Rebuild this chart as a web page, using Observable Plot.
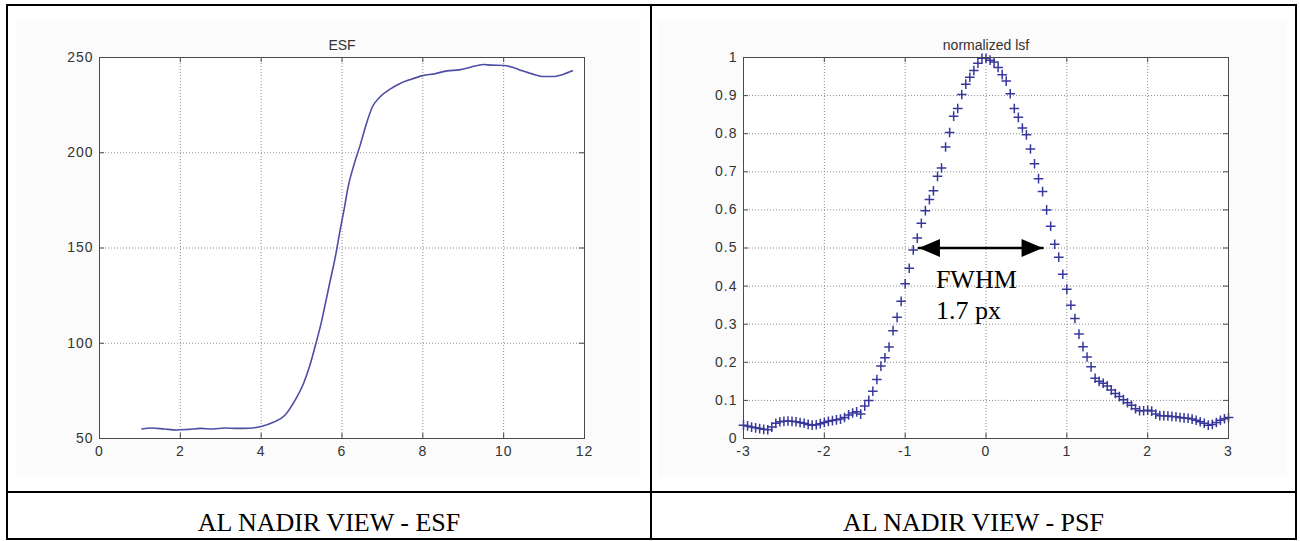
<!DOCTYPE html>
<html>
<head>
<meta charset="utf-8">
<script src="https://cdn.jsdelivr.net/npm/d3@7"></script>
<script src="https://cdn.jsdelivr.net/npm/@observablehq/plot@0.6"></script>
<style>
  html, body { margin: 0; padding: 0; background: #ffffff; }
  #page { position: relative; width: 1300px; height: 541px; overflow: hidden; background: #fff; }
  .bar { position: absolute; background: #000; }
  .cap { position: absolute; font-family: "Liberation Serif", "Times New Roman", serif; font-size: 26px; line-height: 30px; text-align: center; color: #000; white-space: nowrap; }
  .chart { position: absolute; }
  .chart svg { max-width: none !important; }
  g[aria-label$="tick label"] { letter-spacing: 1px; }
</style>
</head>
<body>
<div id="page">
  <div class="chart" id="esf" style="left:16px; top:21px;"></div>
  <div class="chart" id="psf" style="left:658px; top:21px;"></div>
  <div class="bar" style="left:6px; top:4px; width:1291px; height:2px;"></div>
  <div class="bar" style="left:6px; top:538px; width:1291px; height:2px;"></div>
  <div class="bar" style="left:6px; top:4px; width:2px; height:536px;"></div>
  <div class="bar" style="left:1295px; top:4px; width:2px; height:536px;"></div>
  <div class="bar" style="left:650px; top:4px; width:2px; height:536px;"></div>
  <div class="bar" style="left:6px; top:491px; width:1291px; height:2px;"></div>
  <div class="cap" id="capLeft" style="left:8px; top:508px; width:642px;"></div>
  <div class="cap" id="capRight" style="left:652px; top:508px; width:643px;"></div>
</div>
<script>
// ---------- data ----------
const captions = ["AL NADIR VIEW - ESF", "AL NADIR VIEW - PSF"];
const titles = ["ESF", "normalized lsf"];

const esfX = [1.05, 1.3, 1.6, 1.9, 2.2, 2.5, 2.8, 3.1, 3.4, 3.7, 4.0, 4.3, 4.6, 4.85, 5.05, 5.2, 5.35, 5.5, 5.6, 5.7, 5.85, 5.95, 6.05, 6.15, 6.3, 6.45, 6.6, 6.75, 6.95, 7.2, 7.4, 7.7, 8.0, 8.3, 8.6, 8.9, 9.2, 9.5, 9.7, 10.0, 10.2, 10.4, 10.7, 11.0, 11.2, 11.45, 11.7];
const esfY = [55.0, 55.5, 55.0, 54.5, 54.8, 55.3, 55.0, 55.5, 55.3, 55.4, 56.3, 58.5, 62.5, 70.5, 79, 88, 99.5, 112, 122, 132, 147, 159, 170, 182, 194, 204, 215, 224, 229.5, 233.5, 236, 238.5, 240.5, 241.5, 243, 243.5, 245, 246.3, 246, 245.8, 245, 243.5, 241.4, 240, 240, 241, 243];

const psfX = [-3.00, -2.95, -2.90, -2.85, -2.80, -2.75, -2.70, -2.65, -2.60, -2.55,
  -2.50, -2.45, -2.40, -2.35, -2.30, -2.25, -2.20, -2.15, -2.10, -2.05,
  -2.00, -1.95, -1.90, -1.85, -1.80, -1.75, -1.70, -1.65, -1.60, -1.55,
  -1.50, -1.45, -1.40, -1.35, -1.30, -1.25, -1.20, -1.15, -1.10, -1.05,
  -1.00, -0.95, -0.90, -0.85, -0.80, -0.75, -0.70, -0.65, -0.60, -0.55,
  -0.50, -0.45, -0.40, -0.35, -0.30, -0.25, -0.20, -0.15, -0.10, -0.05,
  0.00, 0.05, 0.10, 0.15, 0.20, 0.25, 0.30, 0.35, 0.40, 0.45,
  0.50, 0.55, 0.60, 0.65, 0.70, 0.75, 0.80, 0.85, 0.90, 0.95,
  1.00, 1.05, 1.10, 1.15, 1.20, 1.25, 1.30, 1.35, 1.40, 1.45,
  1.50, 1.55, 1.60, 1.65, 1.70, 1.75, 1.80, 1.85, 1.90, 1.95,
  2.00, 2.05, 2.10, 2.15, 2.20, 2.25, 2.30, 2.35, 2.40, 2.45,
  2.50, 2.55, 2.60, 2.65, 2.70, 2.75, 2.80, 2.85, 2.90, 2.95, 3.00];
const psfY = [0.035, 0.033, 0.030, 0.028, 0.026, 0.024, 0.023, 0.030, 0.040, 0.044,
  0.045, 0.046, 0.045, 0.044, 0.042, 0.040, 0.037, 0.035, 0.036, 0.039,
  0.042, 0.045, 0.047, 0.049, 0.051, 0.055, 0.062, 0.067, 0.070, 0.064,
  0.085, 0.100, 0.124, 0.155, 0.190, 0.212, 0.240, 0.283, 0.318, 0.360,
  0.406, 0.447, 0.495, 0.526, 0.565, 0.598, 0.627, 0.650, 0.688, 0.710,
  0.765, 0.803, 0.846, 0.866, 0.903, 0.930, 0.948, 0.966, 0.985, 0.998,
  0.998, 0.993, 0.988, 0.974, 0.955, 0.938, 0.905, 0.866, 0.843, 0.815,
  0.797, 0.760, 0.721, 0.682, 0.648, 0.600, 0.557, 0.510, 0.476, 0.431,
  0.392, 0.350, 0.315, 0.274, 0.241, 0.214, 0.188, 0.158, 0.150, 0.145,
  0.138, 0.127, 0.118, 0.110, 0.102, 0.094, 0.087, 0.078, 0.073, 0.073,
  0.074, 0.072, 0.064, 0.060, 0.060, 0.059, 0.058, 0.057, 0.055, 0.054,
  0.053, 0.051, 0.048, 0.044, 0.040, 0.035, 0.037, 0.042, 0.048, 0.052, 0.055];

const esfXTicks = [0, 2, 4, 6, 8, 10, 12];
const esfYTicks = [50, 100, 150, 200, 250];
const psfXTicks = [-3, -2, -1, 0, 1, 2, 3];
const psfYTicks = [0, 0.1, 0.2, 0.3, 0.4, 0.5, 0.6, 0.7, 0.8, 0.9, 1];

const fwhmX = [-0.83, 0.70];
const fwhmY = [0.5, 0.5];
const fwhmLabel = ["FWHM\n1.7 px"];

// ---------- helpers ----------
const esfData = esfX.map((x, i) => ({x, y: esfY[i]}));
const psfData = psfX.map((x, i) => ({x, y: psfY[i]}));
const fwhmData = fwhmX.map((x, i) => ({x, y: fwhmY[i]}));

const frameColor = "#4a4a4a";
const gridColor = "#8a8a8a";
const fmt = d => String(d);

const headLeft = {draw(ctx) { ctx.moveTo(0, 0); ctx.lineTo(21, -9); ctx.lineTo(21, 9); ctx.closePath(); }};
const headRight = {draw(ctx) { ctx.moveTo(0, 0); ctx.lineTo(-21, -9); ctx.lineTo(-21, 9); ctx.closePath(); }};

function matlabAxes(xTicks, yTicks, innerW, innerH) {
  return [
    Plot.frame({fill: "white", stroke: "none"}),
    Plot.ruleX(xTicks, {x: d => d, stroke: gridColor, strokeDasharray: "1,2", strokeWidth: 1}),
    Plot.ruleY(yTicks, {y: d => d, stroke: gridColor, strokeDasharray: "1,2", strokeWidth: 1}),
    Plot.ruleX(xTicks, {x: d => d, insetTop: innerH - 5, stroke: frameColor}),
    Plot.ruleX(xTicks, {x: d => d, insetBottom: innerH - 5, stroke: frameColor}),
    Plot.ruleY(yTicks, {y: d => d, insetRight: innerW - 5, stroke: frameColor}),
    Plot.ruleY(yTicks, {y: d => d, insetLeft: innerW - 5, stroke: frameColor})
  ];
}

const svgStyle = {
  background: "#fbfbfb",
  fontSize: "14px",
  fontFamily: "'Liberation Sans', Arial, sans-serif",
  color: "#333",
  overflow: "visible"
};

// ---------- ESF ----------
const esfPlot = Plot.plot({
  width: 624, height: 456,
  marginLeft: 83, marginRight: 56, marginTop: 36, marginBottom: 39,
  style: svgStyle,
  x: {domain: [0, 12], label: null},
  y: {domain: [50, 250], label: null},
  marks: [
    ...matlabAxes(esfXTicks, esfYTicks, 485, 381),
    Plot.line(esfData, {x: "x", y: "y", stroke: "#4d4da6", strokeWidth: 1.6, curve: "monotone-x"}),
    Plot.frame({stroke: frameColor}),
    Plot.axisX(esfXTicks, {tickSize: 0, tickPadding: 8, tickFormat: fmt, label: null}),
    Plot.axisY(esfYTicks, {tickSize: 0, tickPadding: 6, tickFormat: fmt, label: null}),
    Plot.text([titles[0]], {text: d => d, frameAnchor: "top", dy: -17, fontSize: 14, fill: "#333"})
  ]
});
document.getElementById("esf").appendChild(esfPlot);

// ---------- PSF ----------
const psfPlot = Plot.plot({
  width: 629, height: 456,
  marginLeft: 85, marginRight: 59, marginTop: 36, marginBottom: 39,
  style: svgStyle,
  x: {domain: [-3, 3], label: null},
  y: {domain: [0, 1], label: null},
  marks: [
    ...matlabAxes(psfXTicks, psfYTicks, 485, 381),
    Plot.dot(psfData, {x: "x", y: "y", symbol: "plus", r: 3.2, stroke: "#38389c", strokeWidth: 1.5, fill: "none"}),
    Plot.frame({stroke: frameColor}),
    Plot.axisX(psfXTicks, {tickSize: 0, tickPadding: 8, tickFormat: fmt, label: null}),
    Plot.axisY(psfYTicks, {tickSize: 0, tickPadding: 6, tickFormat: fmt, label: null}),
    Plot.text([titles[1]], {text: d => d, frameAnchor: "top", dy: -17, fontSize: 14, fill: "#333"}),
    Plot.line(fwhmData, {x: "x", y: "y", stroke: "black", strokeWidth: 2.5}),
    Plot.dot([fwhmData[0]], {x: "x", y: "y", symbol: headLeft, fill: "black", stroke: "none"}),
    Plot.dot([fwhmData[1]], {x: "x", y: "y", symbol: headRight, fill: "black", stroke: "none"}),
    Plot.text(fwhmLabel, {text: d => d, x: -0.62, y: 0.5, textAnchor: "start", lineAnchor: "top", dy: 18.5,
      lineHeight: 1.18, fontSize: 26, fontFamily: "'Liberation Serif', 'Times New Roman', serif", fill: "black"})
  ]
});
document.getElementById("psf").appendChild(psfPlot);

document.getElementById("capLeft").textContent = captions[0];
document.getElementById("capRight").textContent = captions[1];
</script>
</body>
</html>
